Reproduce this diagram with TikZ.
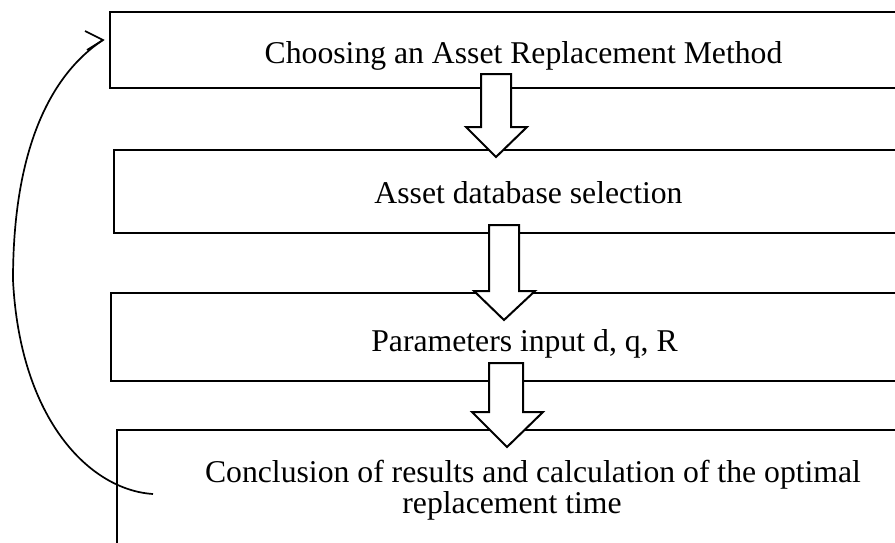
\documentclass[tikz,border=0pt]{standalone}
\usepackage{fontspec}
\setmainfont{Liberation Serif}
\begin{document}
\begin{tikzpicture}[x=1pt,y=-1pt,
  box/.style={draw=black,line width=2pt,fill=none,anchor=north west,minimum width=810pt,inner sep=0pt,outer sep=0pt},
  txt/.style={anchor=base,inner sep=0pt,font=\fontsize{31.7pt}{38pt}\selectfont},
  blockarrow/.style={draw=black,fill=white,line width=2pt,line join=miter},
  loopline/.style={draw=black,line width=1.7pt}]
\clip (0,0) rectangle (895,542);
\fill[white] (0,0) rectangle (895,542);
% boxes
\node[box,minimum height=76pt] (b1) at (110,12) {};
\node[box,minimum height=83pt] (b2) at (114,150) {};
\node[box,minimum height=88pt] (b3) at (111,293) {};
\node[box,minimum height=150pt] (b4) at (117,430) {};
% texts
\node[txt] (t1) at (523.5,63) {Choosing an Asset Replacement Method};
\node[txt] (t2) at (528.5,203) {Asset database selection};
\node[txt] (t3) at (524.5,351) {Parameters input d, q, R};
\node[txt] (t4a) at (533,482) {Conclusion of results and calculation of the optimal};
\node[txt] (t4b) at (512,513) {replacement time};
% block arrows
\draw[blockarrow] (481,74) -- (511,74) -- (511,127) -- (527,127) -- (496,157) -- (466,127) -- (481,127) -- cycle;
\draw[blockarrow] (489,225) -- (519,225) -- (519,291) -- (535,291) -- (504,320) -- (474,291) -- (489,291) -- cycle;
\draw[blockarrow] (489,363) -- (523,363) -- (523,412) -- (543,412) -- (507,447) -- (472,412) -- (489,412) -- cycle;
% feedback loop
\coordinate (cstart) at (153,494);
\coordinate (tip) at (103,40);
\draw[loopline] (cstart) .. controls (90,490) and (20,420) .. (13,280) .. controls (13,150) and (50,75) .. (tip);
\draw[loopline,line join=miter] (85,31) -- (tip) -- (87,50);
\end{tikzpicture}
\end{document}
